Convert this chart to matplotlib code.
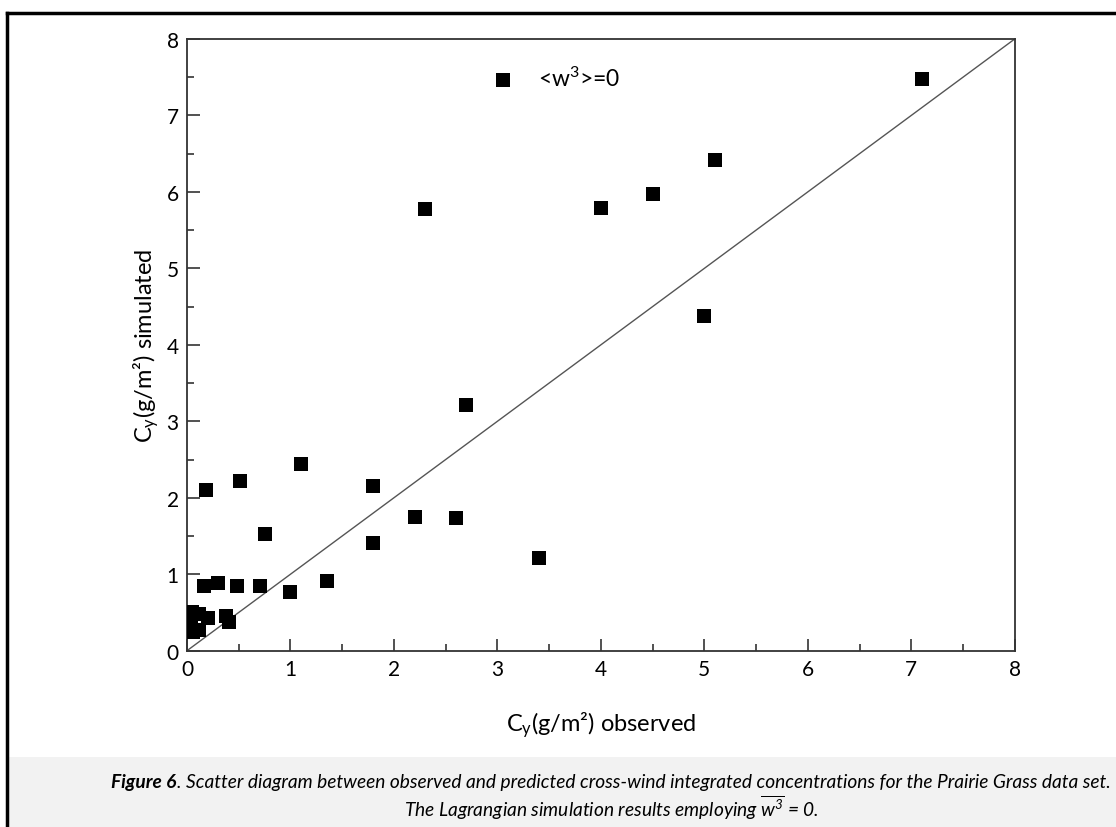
import matplotlib
matplotlib.use('Agg')
import matplotlib.pyplot as plt
from matplotlib.lines import Line2D
from matplotlib.patches import Rectangle
from matplotlib import font_manager

# observed vs simulated cross-wind integrated concentrations (g/m2)
observed = [7.1, 5.1, 4.5, 4.0, 2.3, 5.0, 2.7, 1.1, 0.51, 0.18, 1.8, 2.2, 2.6, 0.75, 1.8,
            3.4, 0.16, 0.30, 0.48, 0.71, 1.35, 1.0, 0.05, 0.12, 0.20, 0.38, 0.41, 0.04,
            0.06, 0.12]
simulated = [7.48, 6.42, 5.97, 5.79, 5.78, 4.38, 3.21, 2.44, 2.22, 2.10, 2.15, 1.75, 1.74,
             1.53, 1.41, 1.21, 0.85, 0.88, 0.85, 0.85, 0.91, 0.77, 0.51, 0.48, 0.43, 0.46,
             0.38, 0.36, 0.24, 0.27]
x_ticks = [0, 1, 2, 3, 4, 5, 6, 7, 8]
y_ticks = [0, 1, 2, 3, 4, 5, 6, 7, 8]
legend_label = '<w$^{3}$>=0'
xlabel = 'C$_\\mathregular{y}$(g/m²) observed'
ylabel = 'C$_\\mathregular{y}$(g/m²) simulated'
caption_bold = 'Figure 6'
caption_1 = '. Scatter diagram between observed and predicted cross-wind integrated concentrations for the Prairie Grass data set.'
caption_2 = 'The Lagrangian simulation results employing $\\overline{w^3}$ = 0.'

installed = {f.name for f in font_manager.fontManager.ttflist}
MAIN_FONT = 'Lato' if 'Lato' in installed else 'DejaVu Sans'
CAP_FONT = 'Liberation Sans Narrow' if 'Liberation Sans Narrow' in installed else MAIN_FONT

plt.rcParams['font.family'] = MAIN_FONT
plt.rcParams['mathtext.default'] = 'regular'

W, H = 1116, 828
fig = plt.figure(figsize=(W / 100, H / 100), dpi=100)
fig.patch.set_facecolor('white')

# frame and caption box
fig.add_artist(Rectangle((9 / W, 0), 1, 70 / H, transform=fig.transFigure,
                         facecolor='#f2f2f2', edgecolor='none', zorder=0))
fig.add_artist(Line2D([7 / W, 1], [1 - 14 / H] * 2, transform=fig.transFigure,
                      color='black', lw=2.5))
fig.add_artist(Line2D([7 / W, 7 / W], [0, 1 - 14 / H], transform=fig.transFigure,
                      color='black', lw=2.5))

ax = fig.add_axes([187 / W, 1 - 651.7 / H, 827.7 / W, 611.7 / H])
ax.plot([0, 8], [0, 8], color='#555555', lw=1)
ax.scatter(observed, simulated, marker='s', s=110, color='black', lw=0, label=legend_label,
           zorder=3)

ax.set_xlim(0, 8)
ax.set_ylim(0, 8)
ax.set_xticks(x_ticks)
ax.set_yticks(y_ticks)
ax.set_xticks([t + 0.5 for t in x_ticks[:-1]], minor=True)
ax.set_yticks([t + 0.5 for t in y_ticks[:-1]], minor=True)
ax.tick_params(which='major', direction='in', length=9, width=1.2, labelsize=15,
               color='#333333', pad=6)
ax.tick_params(which='minor', direction='in', length=5, width=1.2, color='#333333')
for s in ax.spines.values():
    s.set_linewidth(1.3)
    s.set_color('#333333')

ax.set_xlabel(xlabel, fontsize=17, labelpad=22)
ax.set_ylabel(ylabel, fontsize=17, labelpad=4)

ax.legend(loc='center left', bbox_to_anchor=(0.371, 0.936), frameon=False, fontsize=16.5,
          borderpad=0, borderaxespad=0, handlelength=0.8, handletextpad=1.1, scatterpoints=1)

# caption
r = fig.canvas.get_renderer()
cap_size = 13.8
t1 = fig.text(0, 45 / H, caption_bold, fontsize=cap_size, family=CAP_FONT,
              style='italic', weight='bold', va='center')
t2 = fig.text(0, 45 / H, caption_1, fontsize=cap_size, family=CAP_FONT,
              style='italic', va='center')
w1 = t1.get_window_extent(r).width
w2 = t2.get_window_extent(r).width
x0 = 611 - (w1 + w2) / 2
t1.set_x(x0 / W)
t2.set_x((x0 + w1) / W)
fig.text(611 / W, 20 / H, caption_2, fontsize=cap_size, family=CAP_FONT,
         style='italic', ha='center', va='center')

plt.savefig('out.png', dpi=100)
